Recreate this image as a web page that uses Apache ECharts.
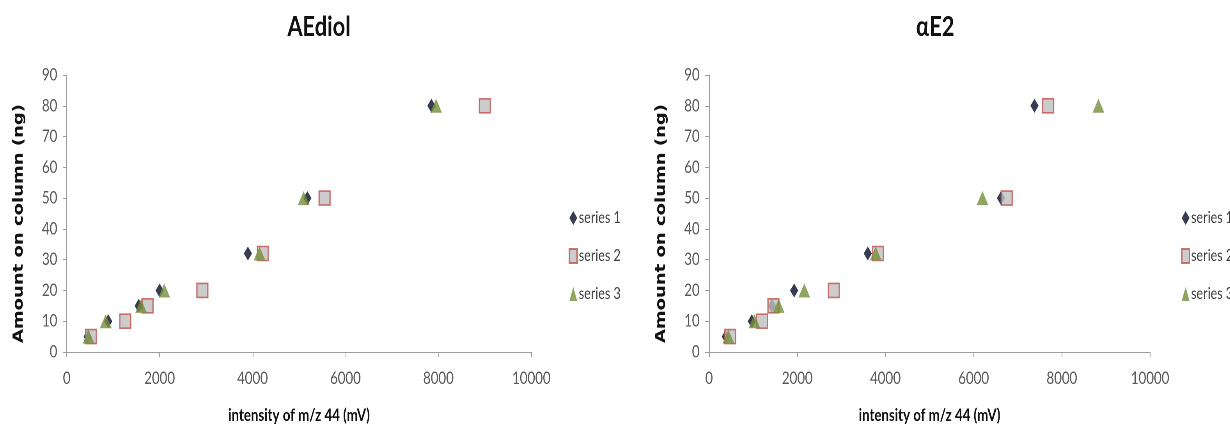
<!DOCTYPE html>
<html>
<head>
<meta charset="utf-8">
<script src="https://cdn.jsdelivr.net/npm/echarts@6/dist/echarts.min.js"></script>
<style>
  html, body { margin: 0; padding: 0; background: #fff; }
  #wrap { width: 1230px; height: 429px; overflow: hidden; position: relative; }
  #c { width: 1577px; height: 429px; transform: scaleX(0.78); transform-origin: 0 0; }
</style>
</head>
<body>
<div id="wrap"><div id="c"></div></div>
<script>
// ---- data ----
const chartTitles = ['AEdiol', 'αE2'];
const seriesNames = ['series 1', 'series 2', 'series 3'];
const amounts = [5, 10, 15, 20, 32, 50, 80];           // ng on column (y)
// AEdiol intensities (mV)
const aediolS1 = [450, 894, 1550, 2000, 3900, 5180, 7850];
const aediolS2 = [520, 1260, 1740, 2920, 4220, 5550, 9000];
const aediolS3 = [470, 840, 1600, 2100, 4150, 5100, 7950];
// αE2 intensities (mV)
const ae2S1 = [380, 970, 1430, 1930, 3600, 6620, 7380];
const ae2S2 = [480, 1200, 1460, 2830, 3830, 6750, 7690];
const ae2S3 = [440, 1030, 1580, 2160, 3780, 6200, 8830];
const xTicks = [0, 2000, 4000, 6000, 8000, 10000];
const yTicks = [0, 10, 20, 30, 40, 50, 60, 70, 80, 90];
const xName = 'intensity of m/z 44 (mV)';
const yName = 'Amount on column (ng)';

// ---- styles ----
const FONT = "Lato, 'Open Sans', sans-serif";
const styles = [
  { symbol: 'diamond', symbolSize: [10.5, 14], itemStyle: { color: '#060b26' } },
  { symbol: 'rect', symbolSize: [14, 14], itemStyle: { color: '#bfbfbf', borderColor: '#c0504d', borderWidth: 1.6 } },
  { symbol: 'triangle', symbolSize: [15, 14], itemStyle: { color: '#758e3c' } }
];
const pairs = (xs) => xs.map((x, i) => [x, amounts[i]]);
const chartData = [[aediolS1, aediolS2, aediolS3], [ae2S1, ae2S2, ae2S3]];

const grids = [
  { left: 85.5, top: 75, width: 595.7, height: 282 },
  { left: 909, top: 75, width: 565.4, height: 282 }
];
const titleX = [404, 1194];
const legendX = [724, 1509];

const axisLine = { show: true, lineStyle: { color: '#9d9d9d', width: 1 } };
const axisTick = { show: true, length: 5, lineStyle: { color: '#9d9d9d' } };

const option = {
  backgroundColor: '#fff',
  animation: false,
  title: chartTitles.map((t, i) => ({
    text: t, left: titleX[i], top: 8, textAlign: 'center',
    textStyle: { fontFamily: FONT, fontWeight: 'bold', fontSize: 28, color: '#111' }
  })),
  grid: grids,
  xAxis: grids.map((g, i) => ({
    gridIndex: i, type: 'value', min: xTicks[0], max: xTicks[xTicks.length - 1],
    interval: xTicks[1] - xTicks[0],
    axisLine, axisTick, splitLine: { show: false },
    axisLabel: { color: '#595959', fontFamily: FONT, fontSize: 17, margin: 18, formatter: (v) => String(v) },
    name: xName, nameLocation: 'middle', nameGap: 55,
    nameTextStyle: { fontFamily: FONT, fontWeight: 'bold', fontSize: 17, color: '#111' }
  })),
  yAxis: grids.map((g, i) => ({
    gridIndex: i, type: 'value', min: yTicks[0], max: yTicks[yTicks.length - 1],
    interval: yTicks[1] - yTicks[0],
    axisLine, axisTick, splitLine: { show: false },
    axisLabel: { color: '#595959', fontFamily: FONT, fontSize: 17, margin: 12 },
    name: yName, nameLocation: 'middle', nameGap: 52, nameRotate: 90,
    nameTextStyle: { fontFamily: "'DejaVu Sans', sans-serif", fontWeight: 'bold', fontSize: 18, color: '#111', padding: [0, 20, 0, 0] }
  })),
  legend: legendX.map((lx) => ({
    orient: 'vertical', left: lx, top: 205, itemGap: 22,
    itemWidth: 10, itemHeight: 14,
    data: seriesNames,
    textStyle: { fontFamily: FONT, fontSize: 16, color: '#404040', padding: [0, 0, 0, -3] }
  })),
  series: []
};
chartData.forEach((sets, gi) => {
  sets.forEach((xs, si) => {
    option.series.push(Object.assign({
      type: 'scatter', name: seriesNames[si], xAxisIndex: gi, yAxisIndex: gi,
      data: pairs(xs), z: 2 + si
    }, styles[si]));
  });
});

const chart = echarts.init(document.getElementById('c'), null, { renderer: 'canvas', devicePixelRatio: 2 });
chart.setOption(option);
</script>
</body>
</html>
